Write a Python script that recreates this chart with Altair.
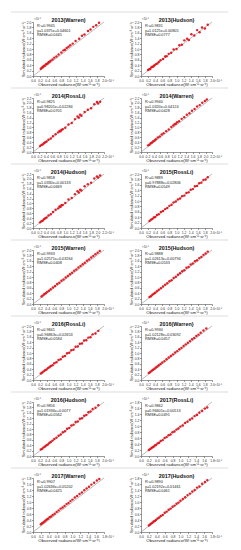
import altair as alt
import pandas as pd

titles = ["2013(Warren)", "2013(Hudson)", "2014(RossLi)", "2014(Warren)",
          "2014(Hudson)", "2015(RossLi)", "2015(Warren)", "2015(Hudson)",
          "2016(RossLi)", "2016(Warren)", "2016(Hudson)", "2017(RossLi)",
          "2017(Warren)", "2017(Hudson)"]
r2_text = ["R²=0.9945", "R²=0.9831", "R²=0.9825", "R²=0.9940", "R²=0.9858",
           "R²=0.9889", "R²=0.9933", "R²=0.9888", "R²=0.9841", "R²=0.9930",
           "R²=0.9856", "R²=0.9862", "R²=0.9907", "R²=0.9890"]
eq_text = ["y=1.0375x+0.04601", "y=1.0125x+0.00805", "y=0.98201x+0.02284",
           "y=1.0320x+0.04124", "y=1.0330x+0.00133", "y=0.97888x+0.02806",
           "y=1.02571x+0.03264", "y=1.02613x+0.00794", "y=0.96863x+0.02653",
           "y=1.02128x+0.03092", "y=1.01936x+0.0077", "y=0.96601x+0.00513",
           "y=1.02636x+0.05202", "y=1.02192x+0.01461"]
rmse_text = ["RMSE=0.0445", "RMSE=0.0777", "RMSE=0.0701", "RMSE=0.0428",
             "RMSE=0.0669", "RMSE=0.0549", "RMSE=0.0408", "RMSE=0.0533",
             "RMSE=0.0584", "RMSE=0.0457", "RMSE=0.0562", "RMSE=0.0491",
             "RMSE=0.0425", "RMSE=0.0461"]
axis_max = [2.0, 2.0, 2.2, 2.2, 2.2, 2.0, 2.0, 2.0, 2.0, 2.0, 2.0, 1.8, 1.8, 1.8]

obs_2013_warren = [0.22, 0.25, 0.28, 0.30, 0.33, 0.36, 0.38, 0.41, 0.44, 0.47, 0.50, 0.55, 0.60, 0.66, 0.72, 0.80,
                   0.86, 0.90, 0.95, 1.00, 1.05, 1.12, 1.20, 1.30, 1.38, 1.45, 1.55, 1.62, 1.70, 1.78, 1.86]
sim_2013_warren = [0.27, 0.31, 0.33, 0.37, 0.38, 0.43, 0.44, 0.46, 0.51, 0.53, 0.57, 0.61, 0.68, 0.72, 0.80, 0.87,
                   0.95, 0.97, 1.04, 1.08, 1.14, 1.20, 1.30, 1.38, 1.49, 1.54, 1.67, 1.72, 1.82, 1.88, 1.97]

obs_2013_hudson = [0.20, 0.23, 0.26, 0.29, 0.32, 0.35, 0.38, 0.42, 0.46, 0.50, 0.55, 0.62, 0.68, 0.72, 0.78, 0.85,
                   0.92, 1.00, 1.08, 1.15, 1.22, 1.30, 1.35, 1.42, 1.50, 1.58, 1.65, 1.72, 1.80, 1.88]
sim_2013_hudson = [0.22, 0.25, 0.26, 0.32, 0.34, 0.35, 0.40, 0.44, 0.46, 0.52, 0.58, 0.63, 0.72, 0.73, 0.82, 0.86,
                   0.98, 1.00, 1.14, 1.16, 1.32, 1.38, 1.33, 1.55, 1.50, 1.70, 1.62, 1.80, 1.76, 1.90]

obs_2014_rossli = [0.22, 0.26, 0.30, 0.34, 0.38, 0.42, 0.48, 0.55, 0.62, 0.70, 0.78, 0.82, 0.85, 0.88, 0.92, 1.00,
                   1.10, 1.20, 1.30, 1.38, 1.42, 1.46, 1.50, 1.60, 1.70, 1.80, 1.90, 1.98, 2.02, 2.08]
sim_2014_rossli = [0.24, 0.29, 0.31, 0.36, 0.40, 0.43, 0.50, 0.55, 0.64, 0.72, 0.80, 0.86, 0.84, 0.90, 0.93, 0.99,
                   1.12, 1.18, 1.34, 1.45, 1.40, 1.52, 1.48, 1.63, 1.72, 1.78, 1.95, 2.04, 1.98, 2.05]

obs_2014_warren = [0.22, 0.26, 0.30, 0.34, 0.38, 0.42, 0.46, 0.52, 0.58, 0.64, 0.70, 0.78, 0.86, 0.94, 1.00, 1.04,
                   1.08, 1.12, 1.18, 1.26, 1.34, 1.42, 1.50, 1.58, 1.66, 1.74, 1.82, 1.90, 1.98, 2.04]
sim_2014_warren = [0.27, 0.30, 0.36, 0.39, 0.44, 0.47, 0.52, 0.59, 0.63, 0.71, 0.76, 0.85, 0.92, 1.02, 1.08, 1.13,
                   1.15, 1.21, 1.25, 1.35, 1.42, 1.52, 1.58, 1.68, 1.75, 1.85, 1.91, 2.01, 2.08, 2.14]

obs_2014_hudson = [0.22, 0.26, 0.30, 0.34, 0.38, 0.42, 0.48, 0.55, 0.62, 0.70, 0.78, 0.82, 0.85, 0.88, 0.92, 1.00,
                   1.10, 1.20, 1.30, 1.38, 1.42, 1.46, 1.50, 1.60, 1.70, 1.80, 1.90, 1.98, 2.02, 2.08]
sim_2014_hudson = [0.23, 0.28, 0.30, 0.36, 0.40, 0.43, 0.51, 0.56, 0.65, 0.74, 0.80, 0.88, 0.86, 0.93, 0.94, 1.02,
                   1.16, 1.22, 1.38, 1.50, 1.45, 1.56, 1.53, 1.70, 1.78, 1.84, 2.02, 2.10, 2.06, 2.14]

obs_2015_rossli = [0.24, 0.28, 0.32, 0.36, 0.40, 0.45, 0.50, 0.56, 0.62, 0.68, 0.74, 0.80, 0.86, 0.92, 0.98, 1.04,
                   1.10, 1.16, 1.22, 1.28, 1.34, 1.40, 1.46, 1.52, 1.58, 1.64, 1.70, 1.76, 1.82, 1.88]
sim_2015_rossli = [0.26, 0.31, 0.33, 0.39, 0.41, 0.48, 0.51, 0.59, 0.63, 0.70, 0.74, 0.82, 0.86, 0.95, 0.98, 1.06,
                   1.09, 1.18, 1.20, 1.30, 1.32, 1.42, 1.44, 1.55, 1.56, 1.66, 1.68, 1.78, 1.80, 1.88]

obs_2015_warren = [0.24, 0.28, 0.32, 0.36, 0.40, 0.45, 0.50, 0.56, 0.62, 0.68, 0.74, 0.80, 0.86, 0.92, 0.98, 1.04,
                   1.10, 1.16, 1.22, 1.28, 1.34, 1.40, 1.46, 1.52, 1.58, 1.64, 1.70, 1.76, 1.82, 1.88]
sim_2015_warren = [0.28, 0.32, 0.37, 0.40, 0.45, 0.49, 0.55, 0.61, 0.67, 0.74, 0.79, 0.86, 0.91, 0.98, 1.04, 1.10,
                   1.16, 1.23, 1.28, 1.35, 1.41, 1.47, 1.53, 1.60, 1.65, 1.72, 1.78, 1.84, 1.90, 1.96]

obs_2015_hudson = [0.24, 0.28, 0.32, 0.36, 0.40, 0.45, 0.50, 0.56, 0.62, 0.68, 0.74, 0.80, 0.86, 0.92, 0.98, 1.04,
                   1.10, 1.16, 1.22, 1.28, 1.34, 1.40, 1.46, 1.52, 1.58, 1.64, 1.70, 1.76, 1.82, 1.88]
sim_2015_hudson = [0.26, 0.29, 0.34, 0.38, 0.42, 0.47, 0.53, 0.58, 0.65, 0.71, 0.77, 0.84, 0.88, 0.96, 1.01, 1.08,
                   1.14, 1.21, 1.25, 1.34, 1.37, 1.46, 1.50, 1.58, 1.62, 1.70, 1.74, 1.82, 1.87, 1.94]

obs_2016_rossli = [0.22, 0.26, 0.30, 0.34, 0.38, 0.42, 0.46, 0.50, 0.55, 0.60, 0.66, 0.72, 0.78, 0.84, 0.90, 0.96,
                   1.02, 1.08, 1.14, 1.20, 1.26, 1.32, 1.38, 1.44, 1.50, 1.56, 1.62, 1.68, 1.76, 1.84]
sim_2016_rossli = [0.24, 0.28, 0.32, 0.36, 0.39, 0.44, 0.47, 0.52, 0.55, 0.62, 0.66, 0.74, 0.77, 0.86, 0.89, 0.99,
                   1.01, 1.10, 1.12, 1.23, 1.24, 1.34, 1.35, 1.46, 1.47, 1.57, 1.58, 1.69, 1.72, 1.82]

obs_2016_warren = [0.22, 0.26, 0.30, 0.34, 0.38, 0.42, 0.46, 0.50, 0.55, 0.60, 0.66, 0.72, 0.78, 0.84, 0.90, 0.96,
                   1.02, 1.08, 1.14, 1.20, 1.26, 1.32, 1.38, 1.44, 1.50, 1.56, 1.62, 1.68, 1.76, 1.84]
sim_2016_warren = [0.26, 0.30, 0.34, 0.38, 0.42, 0.46, 0.50, 0.55, 0.59, 0.65, 0.70, 0.77, 0.83, 0.89, 0.95, 1.02,
                   1.07, 1.14, 1.19, 1.26, 1.32, 1.38, 1.44, 1.51, 1.56, 1.63, 1.68, 1.75, 1.83, 1.91]

obs_2016_hudson = [0.22, 0.26, 0.30, 0.34, 0.38, 0.42, 0.46, 0.50, 0.55, 0.60, 0.66, 0.72, 0.78, 0.84, 0.90, 0.96,
                   1.02, 1.08, 1.14, 1.20, 1.26, 1.32, 1.38, 1.44, 1.50, 1.56, 1.62, 1.68, 1.76, 1.84]
sim_2016_hudson = [0.24, 0.27, 0.32, 0.35, 0.40, 0.43, 0.48, 0.52, 0.57, 0.63, 0.68, 0.75, 0.80, 0.88, 0.92, 1.01,
                   1.04, 1.13, 1.16, 1.26, 1.28, 1.38, 1.40, 1.49, 1.52, 1.62, 1.65, 1.74, 1.79, 1.88]

obs_2017_rossli = [0.20, 0.23, 0.26, 0.29, 0.32, 0.35, 0.38, 0.42, 0.46, 0.50, 0.55, 0.60, 0.65, 0.70, 0.75, 0.80,
                   0.85, 0.90, 0.95, 1.00, 1.06, 1.12, 1.18, 1.24, 1.30, 1.36, 1.42, 1.48, 1.55, 1.62, 1.68]
sim_2017_rossli = [0.20, 0.23, 0.26, 0.29, 0.31, 0.35, 0.37, 0.42, 0.44, 0.50, 0.53, 0.60, 0.63, 0.69, 0.72, 0.79,
                   0.82, 0.88, 0.92, 0.98, 1.02, 1.10, 1.14, 1.21, 1.25, 1.33, 1.37, 1.44, 1.50, 1.58, 1.62]

obs_2017_warren = [0.20, 0.23, 0.26, 0.29, 0.32, 0.35, 0.38, 0.42, 0.46, 0.50, 0.55, 0.60, 0.65, 0.70, 0.75, 0.80,
                   0.85, 0.90, 0.95, 1.00, 1.06, 1.12, 1.18, 1.24, 1.30, 1.36, 1.42, 1.48, 1.55, 1.62, 1.68]
sim_2017_warren = [0.26, 0.29, 0.32, 0.35, 0.38, 0.42, 0.44, 0.49, 0.52, 0.57, 0.61, 0.67, 0.72, 0.78, 0.82, 0.87,
                   0.93, 0.97, 1.03, 1.08, 1.15, 1.20, 1.27, 1.32, 1.39, 1.45, 1.51, 1.58, 1.64, 1.72, 1.77]

obs_2017_hudson = [0.20, 0.23, 0.26, 0.29, 0.32, 0.35, 0.38, 0.42, 0.46, 0.50, 0.55, 0.60, 0.65, 0.70, 0.75, 0.80,
                   0.85, 0.90, 0.95, 1.00, 1.06, 1.12, 1.18, 1.24, 1.30, 1.36, 1.42, 1.48, 1.55, 1.62, 1.68]
sim_2017_hudson = [0.22, 0.25, 0.28, 0.31, 0.35, 0.37, 0.40, 0.45, 0.48, 0.53, 0.57, 0.64, 0.68, 0.74, 0.78, 0.84,
                   0.88, 0.94, 0.98, 1.04, 1.10, 1.16, 1.23, 1.28, 1.35, 1.40, 1.48, 1.52, 1.61, 1.67, 1.73]

obs_all = [obs_2013_warren, obs_2013_hudson, obs_2014_rossli, obs_2014_warren, obs_2014_hudson,
           obs_2015_rossli, obs_2015_warren, obs_2015_hudson, obs_2016_rossli, obs_2016_warren,
           obs_2016_hudson, obs_2017_rossli, obs_2017_warren, obs_2017_hudson]
sim_all = [sim_2013_warren, sim_2013_hudson, sim_2014_rossli, sim_2014_warren, sim_2014_hudson,
           sim_2015_rossli, sim_2015_warren, sim_2015_hudson, sim_2016_rossli, sim_2016_warren,
           sim_2016_hudson, sim_2017_rossli, sim_2017_warren, sim_2017_hudson]

W, H = 71, 54
FONT = "Liberation Sans"
RED = "#e3121b"


def panel(i, with_separator):
    d = axis_max[i]
    n = int(round(d / 0.2))
    ticks = [round(k * 0.2, 1) for k in range(n + 1)]
    sc = alt.Scale(domain=[0, d], nice=False, zero=True)
    df = pd.DataFrame({"obs": obs_all[i], "sim": sim_all[i]})
    xax = alt.Axis(title="Observed radiance(W·cm⁻²·sr⁻¹)", values=ticks, format=".1f",
                   titleFontSize=4.4, labelOverlap=False)
    yax = alt.Axis(title="Simulated radiance(W·cm⁻²·sr⁻¹)", values=ticks, format=".1f",
                   titleFontSize=3.9, labelOverlap=False)

    diag = alt.Chart(pd.DataFrame({"a": [0, d], "b": [0, d]})).mark_line(
        color="#8a8a8a", strokeWidth=0.6).encode(
        x=alt.X("a:Q", scale=sc, axis=xax), y=alt.Y("b:Q", scale=sc, axis=yax))
    pts = alt.Chart(df).mark_circle(size=6, color=RED, opacity=0.95).encode(
        x=alt.X("obs:Q", scale=sc, axis=xax), y=alt.Y("sim:Q", scale=sc, axis=yax))

    lines = pd.DataFrame({"t": [r2_text[i], eq_text[i], rmse_text[i]], "yy": [4, 8.5, 13]})
    stats = alt.Chart(lines).mark_text(align="left", baseline="middle", fontSize=3.8, font=FONT,
                                       color="#222222").encode(
        x=alt.value(4), y=alt.Y("yy:Q", scale=None), text="t:N")

    ttl = alt.Chart(pd.DataFrame({"t": [titles[i]]})).mark_text(
        align="center", baseline="middle", fontSize=5.4, fontWeight="bold", font=FONT,
        color="#111111").encode(x=alt.value(W / 2), y=alt.value(-2.5), text="t:N")
    exps = pd.DataFrame({"t": ["×10⁻⁸", "×10⁻⁸"], "px": [1, W + 3], "py": [-3, H + 5]})
    ex = alt.Chart(exps).mark_text(align="left", baseline="middle", fontSize=2.8, font=FONT,
                                   color="#333333").encode(
        x=alt.X("px:Q", scale=None), y=alt.Y("py:Q", scale=None), text="t:N")

    layers = [diag, pts, stats, ttl, ex]
    if with_separator:
        sep = alt.Chart(pd.DataFrame({"z": [0]})).mark_rule(color="#d4d4d4", strokeWidth=0.8).encode(
            x=alt.value(-22), x2=alt.value(195), y=alt.value(-10))
        layers.insert(0, sep)
    return alt.layer(*layers).properties(width=W, height=H)


panels = [panel(i, i % 2 == 0) for i in range(14)]

chart = alt.concat(*panels, columns=2, spacing={"row": 22, "column": 37}, bounds="flush").properties(
    padding={"left": 2, "top": 3, "right": 0, "bottom": 0}, background="white"
).configure_view(stroke=None).configure_axis(
    grid=False, labelFontSize=3.4, labelFont=FONT, labelColor="#333333",
    titleFont=FONT, titleFontWeight="normal", titleColor="#222222",
    domainColor="#333333", domainWidth=0.5, tickColor="#333333", tickWidth=0.5,
    tickSize=1.5, labelPadding=0.5, titlePadding=1, labelOverlap=False, labelFlush=False,
    labelSeparation=0
)

chart.save("out.html", embed_options={"renderer": "svg", "actions": False})
